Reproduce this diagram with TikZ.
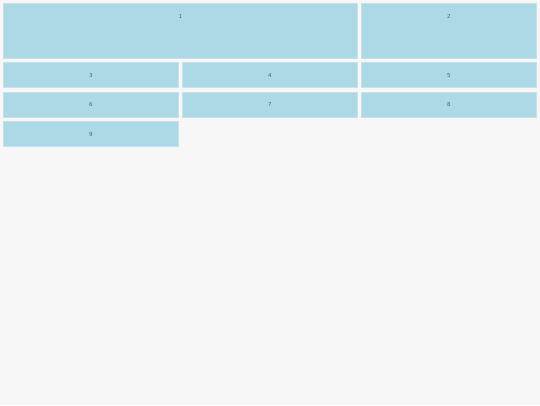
\documentclass[tikz,border=0pt]{standalone}
\usepackage{fontspec}
\setsansfont{DejaVu Sans}
\usepackage{tikz}
\usetikzlibrary{positioning}
\definecolor{gridback}{RGB}{247,247,247}
\definecolor{cellblue}{RGB}{173,216,230}
\definecolor{celledge}{RGB}{200,224,234}
\definecolor{cellink}{RGB}{80,100,115}
\tikzset{
  cell/.style={draw=celledge, line width=0.8pt, fill=cellblue,
    anchor=north west, inner sep=0pt, minimum width=174.2pt,
    minimum height=24.7pt},
  celltext/.style={text=cellink, font=\sffamily\fontsize{5.5}{6}\selectfont,
    inner sep=0pt},
}

\begin{document}
\begin{tikzpicture}[x=1pt, y=-1pt]
  \fill[gridback] (0,0) rectangle (540,405);
  \useasboundingbox (0,0) rectangle (540,405);
  % first band: two tall cells
  \node[cell, minimum width=353.2pt, minimum height=54.2pt] (c1) at (3.4,3.4) {};
  \node[cell, minimum height=54.2pt] (c2) at (361.4,3.4) {};
  \node[celltext, below=13pt of c1.north, anchor=center] (t1) {1};
  \node[celltext, below=13pt of c2.north, anchor=center] (t2) {2};
  % second row
  \node[cell] (c3) at (3.4,62.4) {};
  \node[cell] (c4) at (182.4,62.4) {};
  \node[cell] (c5) at (361.4,62.4) {};
  % third row
  \node[cell] (c6) at (3.4,91.9) {};
  \node[cell] (c7) at (182.4,91.9) {};
  \node[cell] (c8) at (361.4,91.9) {};
  % fourth row
  \node[cell] (c9) at (3.4,121.4) {};
  \foreach \n in {3,...,9}
    \node[celltext] (t\n) at (c\n.center) {\n};
\end{tikzpicture}
\end{document}
